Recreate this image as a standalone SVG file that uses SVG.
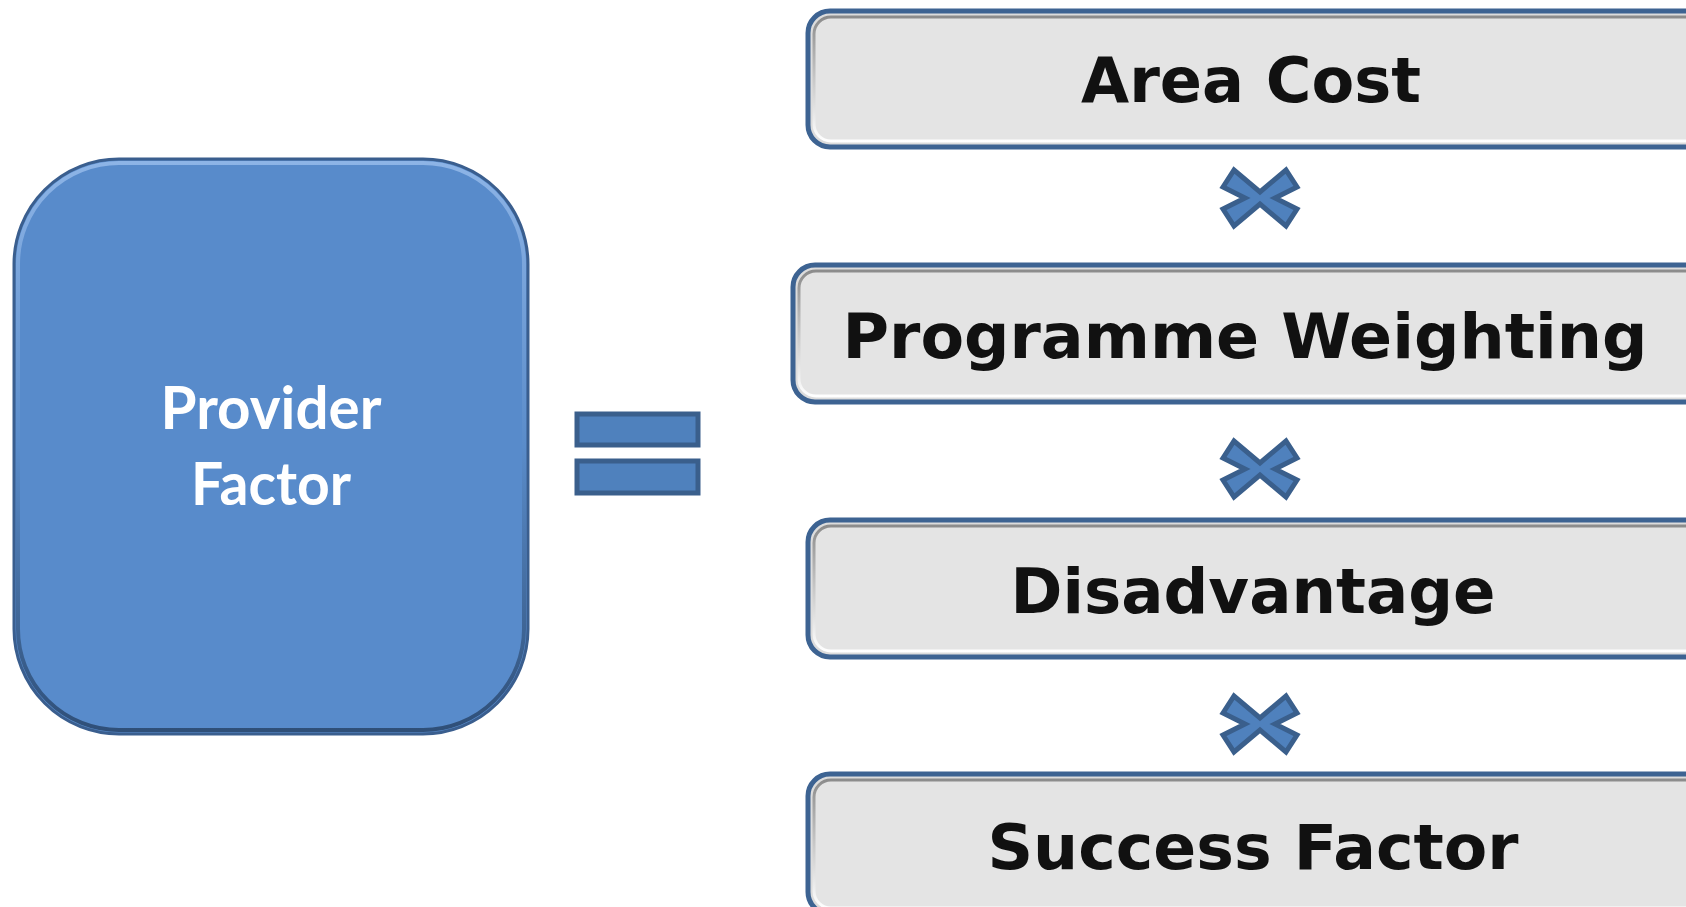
<svg xmlns="http://www.w3.org/2000/svg" width="1686" height="907" viewBox="0 0 1686 907">
<defs>
<linearGradient id="gb" x1="0" y1="0" x2="0" y2="1">
<stop offset="0" stop-color="#8c8c8c"/><stop offset="0.5" stop-color="#c8c8c8"/><stop offset="1" stop-color="#ffffff"/>
</linearGradient>
<linearGradient id="bb" x1="0" y1="0" x2="0" y2="1">
<stop offset="0" stop-color="#8db4e6"/><stop offset="0.5" stop-color="#5a8cca"/><stop offset="1" stop-color="#2f4f78"/>
</linearGradient>
<polygon id="times" points="-37,-11 -26,-28 0,-6 26,-28 37,-11 15,0 37,11 26,28 0,6 -26,28 -37,11 -15,0"/>
</defs>
<style>
.outer{fill:#dcdcdc;stroke:#3d6392;stroke-width:5}
.inner{fill:#e4e4e4;stroke:url(#gb);stroke-width:3}
.lbl{font-family:"DejaVu Sans",Verdana,sans-serif;font-weight:bold;font-size:62px;fill:#111111;text-anchor:middle}
.pf{font-family:Lato,"Open Sans",sans-serif;font-weight:bold;font-size:59px;fill:#ffffff;text-anchor:middle}
.op{fill:#4f81bd;stroke:#3a5f8c;stroke-width:5}
</style>
<rect width="1686" height="907" fill="#ffffff"/>
<g id="provider-factor">
<rect x="14" y="159" width="514" height="575" rx="105" fill="#588bcb" stroke="#3a5e8e" stroke-width="3"/>
<rect x="18" y="163" width="506" height="567" rx="101" fill="none" stroke="url(#bb)" stroke-width="4"/>
<text class="pf" x="271" y="429" textLength="221" lengthAdjust="spacingAndGlyphs">Provider</text>
<text class="pf" x="271" y="505" textLength="160" lengthAdjust="spacingAndGlyphs">Factor</text>
</g>
<g id="equals">
<rect class="op" x="577" y="414" width="121" height="31"/>
<rect class="op" x="577" y="461" width="121" height="32"/>
</g>
<g id="area-cost">
<rect class="outer" x="808" y="11" width="900" height="136" rx="22"/>
<rect class="inner" x="814" y="17" width="890" height="124" rx="17"/>
<text class="lbl" x="1251" y="102" textLength="340" lengthAdjust="spacingAndGlyphs">Area Cost</text>
</g>
<g id="programme-weighting">
<rect class="outer" x="793" y="265" width="915" height="137" rx="22"/>
<rect class="inner" x="799" y="271" width="905" height="125" rx="17"/>
<text class="lbl" x="1245" y="358" textLength="805" lengthAdjust="spacingAndGlyphs">Programme Weighting</text>
</g>
<g id="disadvantage">
<rect class="outer" x="808" y="520" width="900" height="137" rx="22"/>
<rect class="inner" x="814" y="526" width="890" height="125" rx="17"/>
<text class="lbl" x="1253" y="613" textLength="485" lengthAdjust="spacingAndGlyphs">Disadvantage</text>
</g>
<g id="success-factor">
<rect class="outer" x="808" y="774" width="900" height="140" rx="22"/>
<rect class="inner" x="814" y="780" width="890" height="128" rx="17"/>
<text class="lbl" x="1253" y="869" textLength="531" lengthAdjust="spacingAndGlyphs">Success Factor</text>
</g>
<g id="connectors">
<use href="#times" class="op" transform="translate(1260,198)"/>
<use href="#times" class="op" transform="translate(1260,469)"/>
<use href="#times" class="op" transform="translate(1260,724)"/>
</g>
</svg>
